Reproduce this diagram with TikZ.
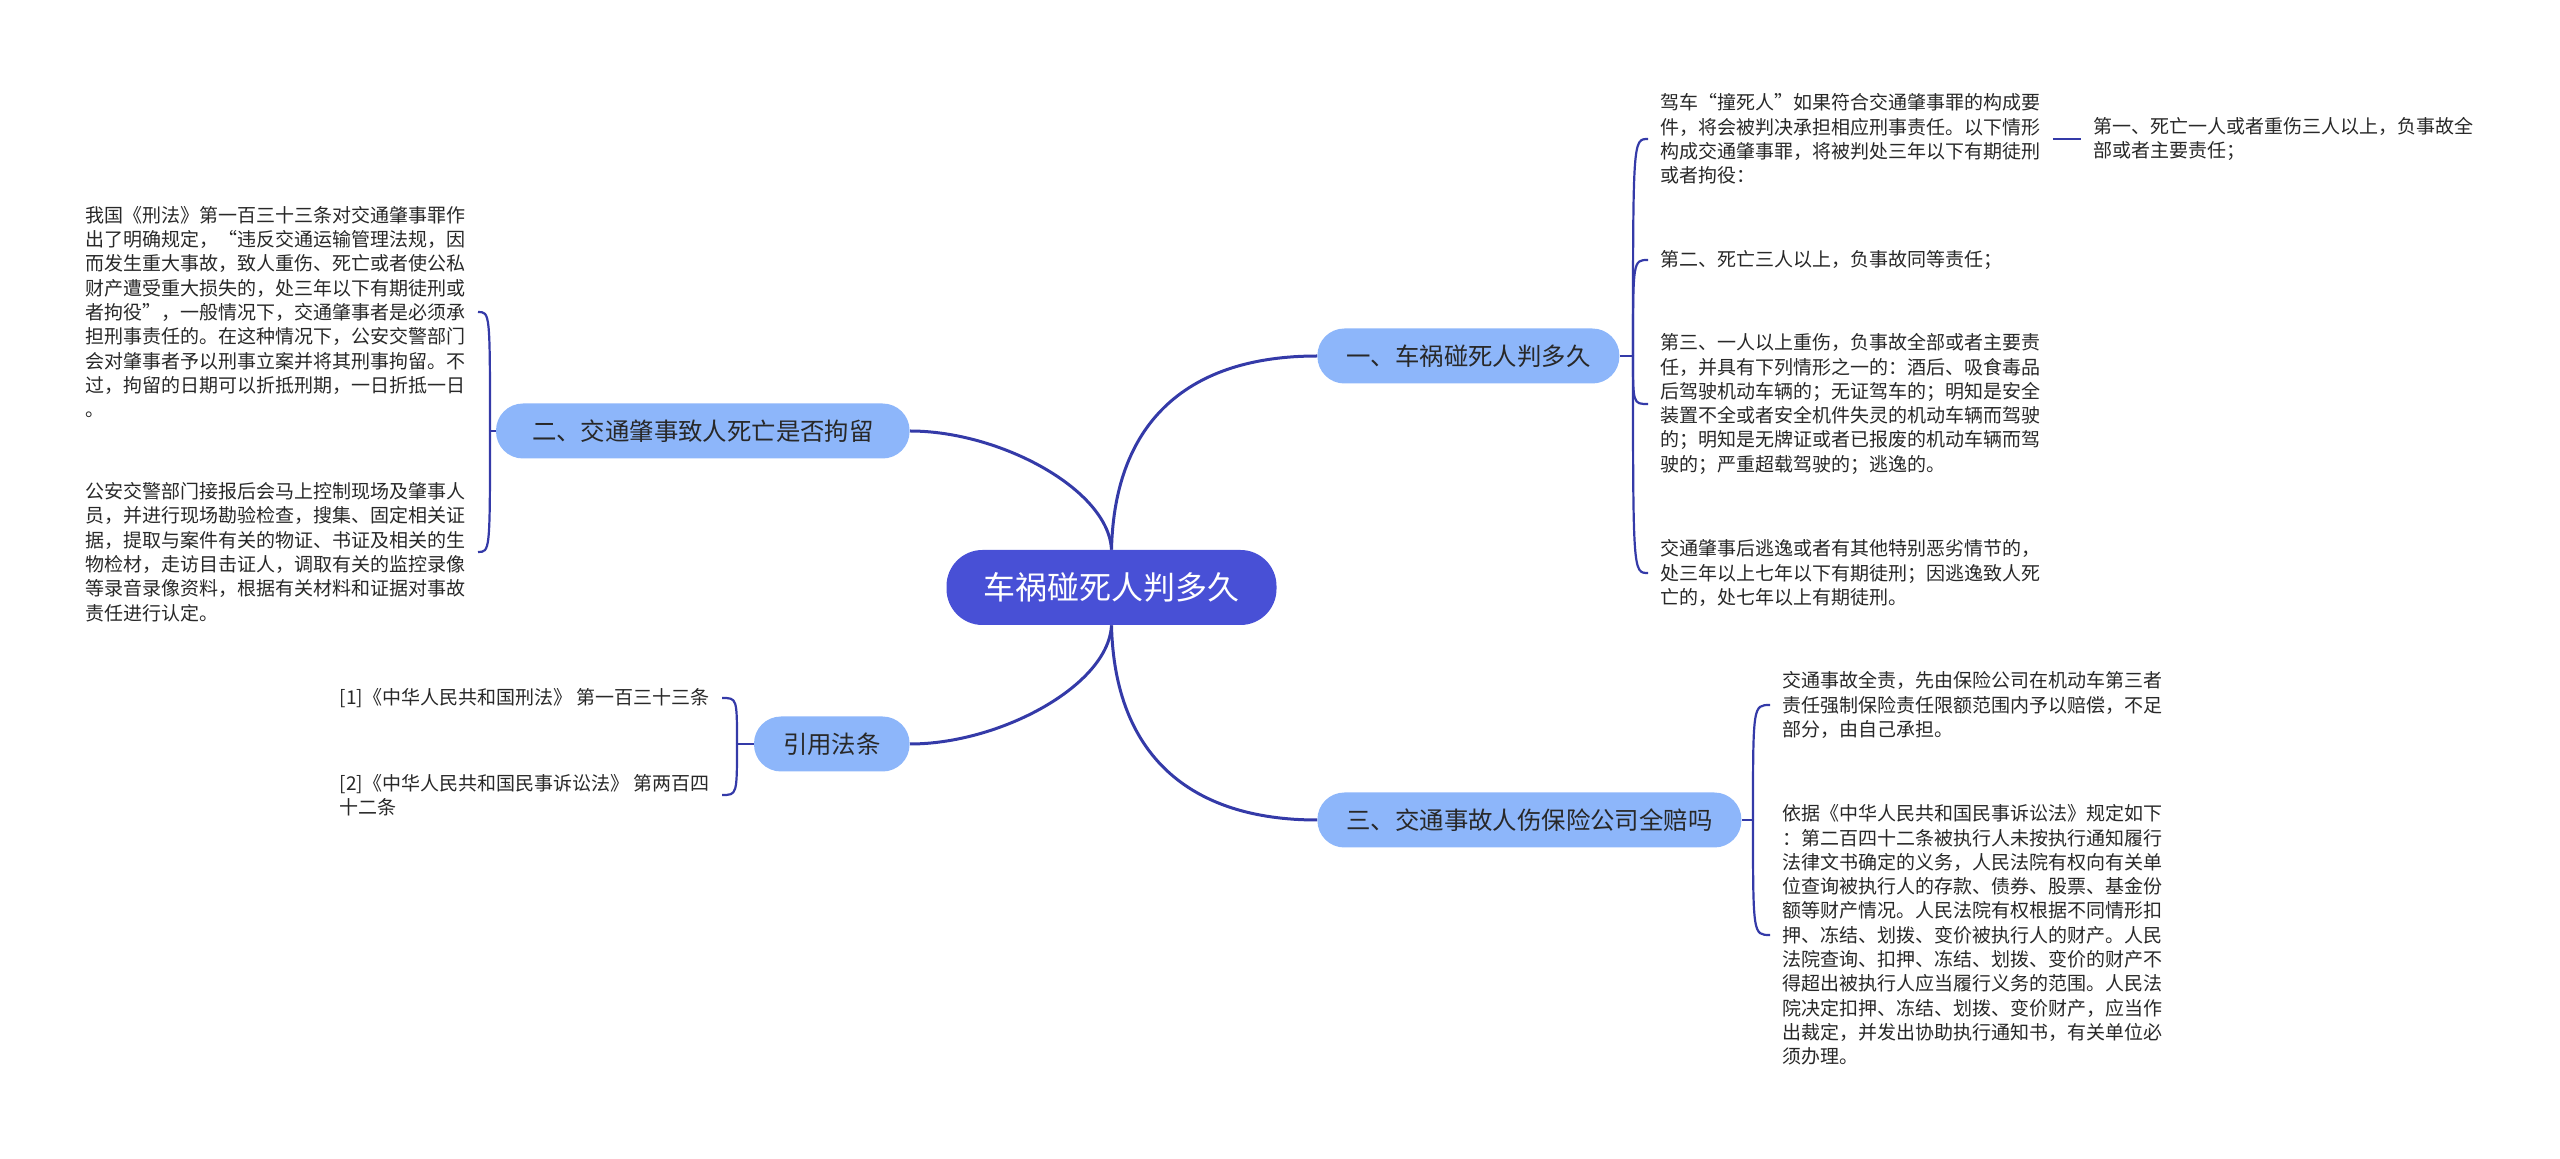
\documentclass[tikz,border=0pt]{standalone}
\usepackage{fontspec}
\setmainfont{Noto Sans CJK SC}
\usepackage{xcolor}
\usepackage{tikz}
\usetikzlibrary{positioning,calc}
\definecolor{rootblue}{RGB}{72,80,214}
\definecolor{topicfill}{RGB}{141,182,250}
\definecolor{linkblue}{RGB}{52,58,168}
\definecolor{notetext}{RGB}{40,40,40}

\begin{document}
\begin{tikzpicture}[
  x=0.5pt, y=0.5pt,
  centre/.style={rectangle, fill=rootblue, text=white, rounded corners=18pt, minimum width=165pt, minimum height=37.5pt, inner xsep=18pt, font=\fontsize{16}{19}\selectfont},
  topic/.style={rectangle, fill=topicfill, text=notetext, rounded corners=13.5pt, minimum height=27.5pt, inner xsep=14.5pt, font=\fontsize{12.2}{14}\selectfont},
  note/.style={align=left, text=notetext, inner xsep=6pt, inner ysep=2pt, font=\fontsize{9.5}{12.15}\selectfont},
  link/.style={draw=linkblue, line width=1.5pt},
  hook/.style={draw=linkblue, line width=1.1pt}
]
\useasboundingbox (0,0) rectangle (2560,-1159);

% Central topic and the four main topics
\node[centre] (root) at (1111.5,-587.5) {车祸碰死人判多久};
\node[topic, anchor=west] (b1) at (1317,-356) {一、车祸碰死人判多久};
\node[topic, anchor=west] (b3) at (1317,-820) {三、交通事故人伤保险公司全赔吗};
\node[topic, anchor=east, inner xsep=18pt] (b2) at (910,-431) {二、交通肇事致人死亡是否拘留};
\node[topic, anchor=east] (b4) at (910,-744) {引用法条};

% Junctions of the brackets
\coordinate (j1) at (1633,-356);
\coordinate (j3) at (1753,-820);
\coordinate (j2) at (490,-431);
\coordinate (j4) at (737,-744);

% Right side: notes of topic one
\node[note, anchor=west] (l1a) at (1648,-139) {驾车“撞死人”如果符合交通肇事罪的构成要\\件，将会被判决承担相应刑事责任。以下情形\\构成交通肇事罪，将被判处三年以下有期徒刑\\或者拘役：};
\node[note, right=14pt of l1a] (l1aa) {第一、死亡一人或者重伤三人以上，负事故全\\部或者主要责任；};
\node[note, anchor=west] (l1b) at (1648,-260) {第二、死亡三人以上，负事故同等责任；};
\node[note, anchor=west] (l1c) at (1648,-404) {第三、一人以上重伤，负事故全部或者主要责\\任，并具有下列情形之一的：酒后、吸食毒品\\后驾驶机动车辆的；无证驾车的；明知是安全\\装置不全或者安全机件失灵的机动车辆而驾驶\\的；明知是无牌证或者已报废的机动车辆而驾\\驶的；严重超载驾驶的；逃逸的。};
\node[note, anchor=west] (l1d) at (1648,-573) {交通肇事后逃逸或者有其他特别恶劣情节的，\\处三年以上七年以下有期徒刑；因逃逸致人死\\亡的，处七年以上有期徒刑。};

% Right side: notes of topic three
\node[note, anchor=west] (l3a) at (1770,-705) {交通事故全责，先由保险公司在机动车第三者\\责任强制保险责任限额范围内予以赔偿，不足\\部分，由自己承担。};
\node[note, anchor=west] (l3b) at (1770,-935) {依据《中华人民共和国民事诉讼法》规定如下\\：第二百四十二条被执行人未按执行通知履行\\法律文书确定的义务，人民法院有权向有关单\\位查询被执行人的存款、债券、股票、基金份\\额等财产情况。人民法院有权根据不同情形扣\\押、冻结、划拨、变价被执行人的财产。人民\\法院查询、扣押、冻结、划拨、变价的财产不\\得超出被执行人应当履行义务的范围。人民法\\院决定扣押、冻结、划拨、变价财产，应当作\\出裁定，并发出协助执行通知书，有关单位必\\须办理。};

% Left side: notes of topic two
\node[note, anchor=east] (l2a) at (478,-312) {我国《刑法》第一百三十三条对交通肇事罪作\\出了明确规定，“违反交通运输管理法规，因\\而发生重大事故，致人重伤、死亡或者使公私\\财产遭受重大损失的，处三年以下有期徒刑或\\者拘役”，一般情况下，交通肇事者是必须承\\担刑事责任的。在这种情况下，公安交警部门\\会对肇事者予以刑事立案并将其刑事拘留。不\\过，拘留的日期可以折抵刑期，一日折抵一日\\。};
\node[note, anchor=east] (l2b) at (478,-552) {公安交警部门接报后会马上控制现场及肇事人\\员，并进行现场勘验检查，搜集、固定相关证\\据，提取与案件有关的物证、书证及相关的生\\物检材，走访目击证人，调取有关的监控录像\\等录音录像资料，根据有关材料和证据对事故\\责任进行认定。};

% Left side: cited articles
\node[note, anchor=east] (l4a) at (722,-698) {[1]《中华人民共和国刑法》 第一百三十三条};
\node[note, anchor=east] (l4b) at (722,-795) {[2]《中华人民共和国民事诉讼法》 第两百四\\十二条};

% Main links out of the central topic
\draw[link] (root.north) .. controls +(3,130) and +(-127,0) .. (b1.west);
\draw[link] (root.south) .. controls +(3,-130) and +(-127,0) .. (b3.west);
\draw[link] (root.north) .. controls +(-3,60) and +(90,0) .. (b2.east);
\draw[link] (root.south) .. controls +(-3,-60) and +(90,0) .. (b4.east);

% Brackets to the notes
\draw[hook] (b1.east) -- (j1);
\foreach \leaf in {l1a,l1b,l1c,l1d}
  \draw[hook] (j1) .. controls (j1 |- \leaf.west) .. (\leaf.west);
\draw[hook] (l1a.east) -- (l1aa.west);

\draw[hook] (b3.east) -- (j3);
\foreach \leaf in {l3a,l3b}
  \draw[hook] (j3) .. controls (j3 |- \leaf.west) .. (\leaf.west);

\draw[hook] (b2.west) -- (j2);
\foreach \leaf in {l2a,l2b}
  \draw[hook] (j2) .. controls (j2 |- \leaf.east) .. (\leaf.east);

\draw[hook] (b4.west) -- (j4);
\foreach \leaf in {l4a,l4b}
  \draw[hook] (j4) .. controls (j4 |- \leaf.east) .. (\leaf.east);
\end{tikzpicture}
\end{document}
